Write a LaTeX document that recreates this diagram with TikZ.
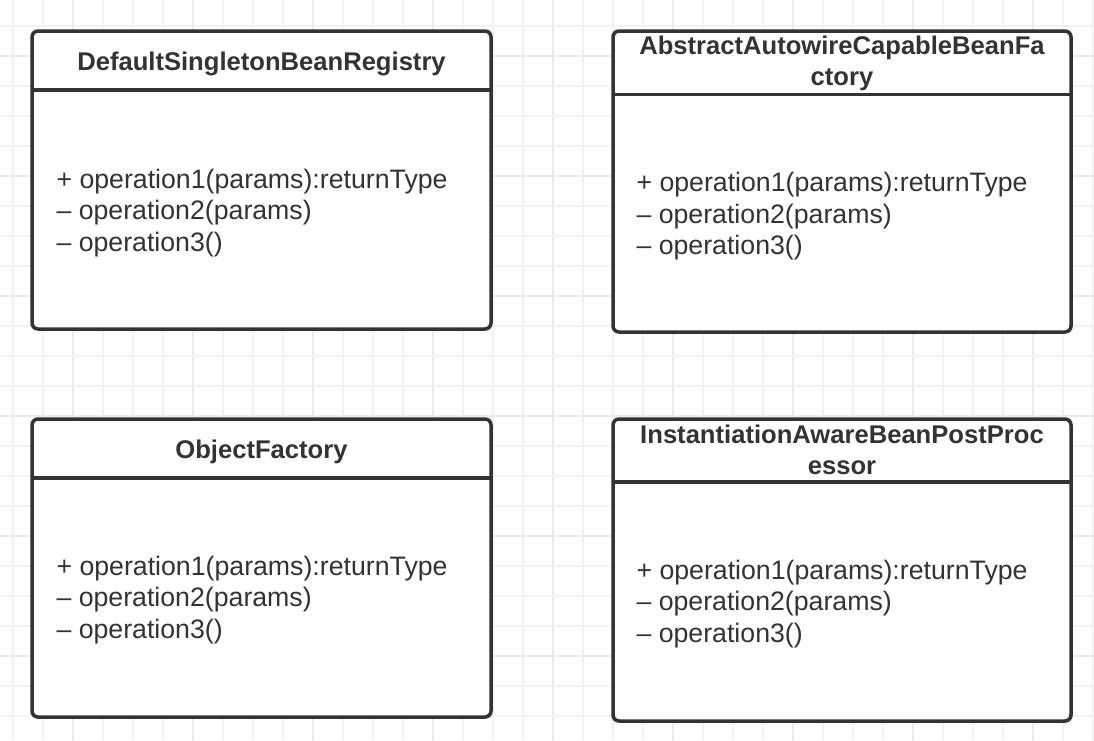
\documentclass[tikz,border=0pt]{standalone}
\usepackage{fontspec}
\setmainfont{Liberation Sans}
\definecolor{umlline}{HTML}{333333}

\begin{document}
\begin{tikzpicture}[x=1pt, y=-1pt,
        gridminor/.style={draw=black!5, line width=1.2pt},
        gridmajor/.style={draw=black!8, line width=1.2pt},
        classbox/.style={draw=umlline, line width=3.5pt, rounded corners=6pt,
            fill=white, inner sep=0pt, outer sep=0pt, minimum width=459pt},
        classtitle/.style={text=umlline, font=\fontsize{25.6}{31}\selectfont\bfseries,
            align=center, anchor=base},
        classbody/.style={text=umlline, font=\fontsize{26.7}{31.5}\selectfont,
            align=left, anchor=base west},
        divider/.style={draw=umlline, line width=3.5pt}]

        % Canvas
        \fill[white] (0,0) rectangle (1094,740);
        \useasboundingbox (0,0) rectangle (1094,740);

        % Grid
        \foreach \i in {0,...,36} {
            \pgfmathtruncatemacro{\m}{mod(\i,4)==2}
            \ifnum\m=1 \draw[gridmajor] (13+30*\i,0) -- (13+30*\i,740);
            \else \draw[gridminor] (13+30*\i,0) -- (13+30*\i,740); \fi
        }
        \foreach \j in {0,...,23} {
            \pgfmathtruncatemacro{\m}{mod(\j,4)==1}
            \ifnum\m=1 \draw[gridmajor] (0,26+30*\j) -- (1094,26+30*\j);
            \else \draw[gridminor] (0,26+30*\j) -- (1094,26+30*\j); \fi
        }

        % Class boxes
        \node[classbox, minimum height=298pt] (registry) at (261.5,180) {};
        \node[classbox, minimum height=301pt, minimum width=458pt] (beanfactory) at (842,181.5) {};
        \node[classbox, minimum height=298pt] (objfactory) at (261.5,568) {};
        \node[classbox, minimum height=302pt, minimum width=458pt] (postproc) at (842,570) {};

        % Header dividers
        \draw[divider] (registry.west |- 0,90) -- (registry.east |- 0,90);
        \draw[divider] (beanfactory.west |- 0,94.5) -- (beanfactory.east |- 0,94.5);
        \draw[divider] (objfactory.west |- 0,478) -- (objfactory.east |- 0,478);
        \draw[divider] (postproc.west |- 0,482) -- (postproc.east |- 0,482);

        % Class names (base = last line)
        \node[classtitle] (registryname) at (261.5,70) {DefaultSingletonBeanRegistry};
        \node[classtitle] (beanfactoryname) at (842,85.5) {AbstractAutowireCapableBeanFa\\ctory};
        \node[classtitle] (objfactoryname) at (261.5,458) {ObjectFactory};
        \node[classtitle] (postprocname) at (842,474.5) {InstantiationAwareBeanPostProc\\essor};

        % Operations (base = last line)
        \node[classbody] (registryops) at (53,251)
            {+ operation1(params):returnType\\– operation2(params)\\– operation3()};
        \node[classbody] (beanfactoryops) at (633,254.5)
            {+ operation1(params):returnType\\– operation2(params)\\– operation3()};
        \node[classbody] (objfactoryops) at (53,638)
            {+ operation1(params):returnType\\– operation2(params)\\– operation3()};
        \node[classbody] (postprocops) at (633,642)
            {+ operation1(params):returnType\\– operation2(params)\\– operation3()};

    \end{tikzpicture}
\end{document}
